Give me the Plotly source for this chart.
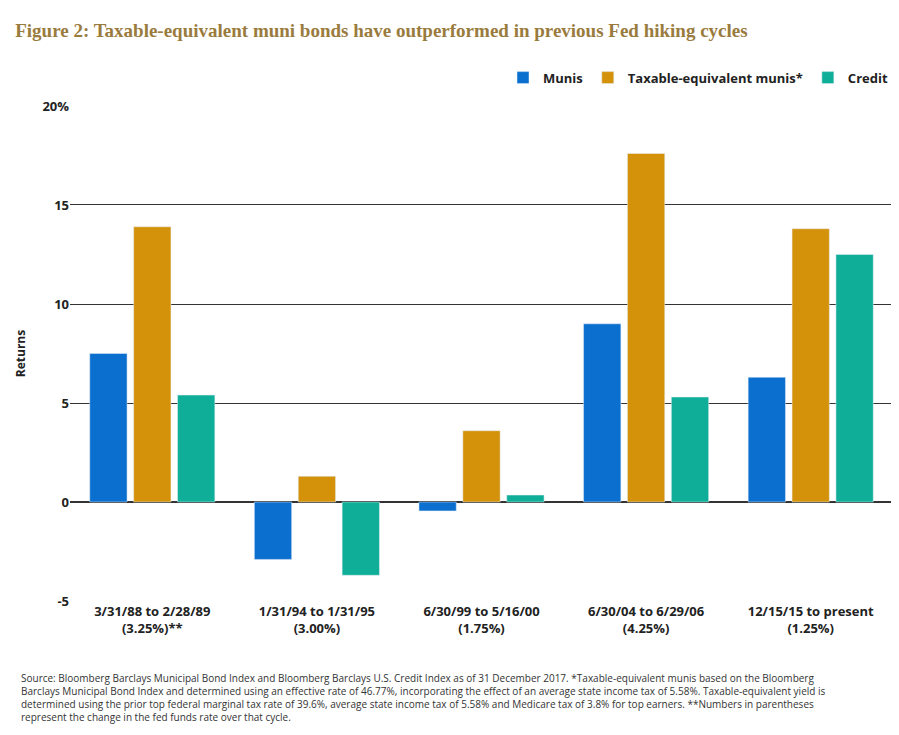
import plotly.graph_objects as go

categories = ["<b>3/31/88 to 2/28/89<br>(3.25%)**</b>", "<b>1/31/94 to 1/31/95<br>(3.00%)</b>",
              "<b>6/30/99 to 5/16/00<br>(1.75%)</b>", "<b>6/30/04 to 6/29/06<br>(4.25%)</b>",
              "<b>12/15/15 to present<br>(1.25%)</b>"]
munis = [7.5, -2.9, -0.45, 9.0, 6.3]
taxable_eq = [13.9, 1.3, 3.6, 17.6, 13.8]
credit = [5.4, -3.7, 0.35, 5.3, 12.5]

fig = go.Figure()
fig.add_bar(x=categories, y=munis, name="<b>Munis</b>", marker_color="#0b6fcf")
fig.add_bar(x=categories, y=taxable_eq, name="<b>Taxable-equivalent munis*</b>", marker_color="#d4920a")
fig.add_bar(x=categories, y=credit, name="<b>Credit</b>", marker_color="#0fae98")

note = ("Source: Bloomberg Barclays Municipal Bond Index and Bloomberg Barclays U.S. Credit Index as of 31 December 2017. *Taxable-equivalent munis based on the Bloomberg<br>"
        "Barclays Municipal Bond Index and determined using an effective rate of 46.77%, incorporating the effect of an average state income tax of 5.58%. Taxable-equivalent yield is<br>"
        "determined using the prior top federal marginal tax rate of 39.6%, average state income tax of 5.58% and Medicare tax of 3.8% for top earners. **Numbers in parentheses<br>"
        "represent the change in the fed funds rate over that cycle.")

fig.update_layout(
    width=899, height=735, plot_bgcolor="white", paper_bgcolor="white",
    margin=dict(l=62, r=14, t=97, b=141),
    font=dict(family="Open Sans", size=13, color="#222"),
    title=dict(text="<b>Figure 2: Taxable-equivalent muni bonds have outperformed in previous Fed hiking cycles</b>",
               x=0.008, y=0.978, xanchor="left",
               font=dict(family="Liberation Serif", size=19, color="#9a7b3e")),
    bargap=0.2, bargroupgap=0.15,
    legend=dict(orientation="h", x=1, xanchor="right", y=1.055, yanchor="middle",
                font=dict(size=13), itemwidth=30, traceorder="normal"),
    yaxis=dict(range=[-5.05, 20.05], tickvals=[-5, 0, 5, 10, 15, 20],
               ticktext=["<b>-5</b>", "<b>0</b>", "<b>5</b>", "<b>10</b>", "<b>15</b>", "<b>20%</b>"],
               showgrid=True, gridcolor="#333",
               gridwidth=0.8, zeroline=True, zerolinecolor="#333", ticks="", tickfont=dict(size=13),
               title=dict(text="<b>Returns</b>", font=dict(size=12), standoff=14)),
    xaxis=dict(showline=False, ticks="", tickfont=dict(size=13, color="#222")),
)
fig.add_annotation(text=note, xref="paper", yref="paper", x=-0.062, y=-0.135, xanchor="left",
                   yanchor="top", showarrow=False, align="left",
                   font=dict(family="Open Sans", size=10, color="#333"))
fig.write_html("out.html")
